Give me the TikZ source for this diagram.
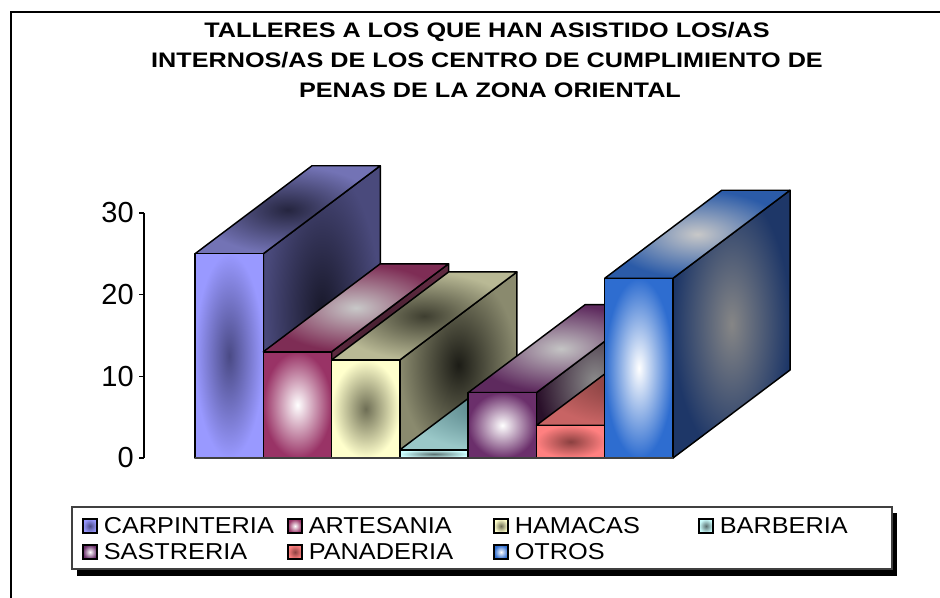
\documentclass[tikz,border=0pt]{standalone}
\usepackage{fontspec}
\setmainfont{Liberation Sans}
\newfontfamily\titlefont[FakeStretch=1.2]{Liberation Sans}
\newfontfamily\legendfont[FakeStretch=1.1]{Liberation Sans}
\usetikzlibrary{positioning}

\definecolor{carpFront}{HTML}{9999FF}
\definecolor{carpMid}{HTML}{4A4A85}
\definecolor{carpTop}{HTML}{7373B5}
\definecolor{carpTopMid}{HTML}{25253F}
\definecolor{carpSide}{HTML}{4A4A7C}
\definecolor{carpSideMid}{HTML}{18182A}
\definecolor{artFront}{HTML}{993366}
\definecolor{artTop}{HTML}{7E2D55}
\definecolor{artTopMid}{HTML}{C8C8C8}
\definecolor{artSide}{HTML}{5E2A40}
\definecolor{artSideMid}{HTML}{3A1A28}
\definecolor{hamFront}{HTML}{FFFFCC}
\definecolor{hamMid}{HTML}{6E6E55}
\definecolor{hamTop}{HTML}{B9B995}
\definecolor{hamTopMid}{HTML}{3E3E30}
\definecolor{hamSide}{HTML}{8A8A6E}
\definecolor{hamSideMid}{HTML}{1C1C16}
\definecolor{barbFront}{HTML}{CCFFFF}
\definecolor{barbMid}{HTML}{5A7070}
\definecolor{barbTop}{HTML}{9AC8C8}
\definecolor{barbTopMid}{HTML}{4E7A80}
\definecolor{sastFront}{HTML}{6B2F6B}
\definecolor{sastTop}{HTML}{5E2A5E}
\definecolor{sastTopMid}{HTML}{C4C4C4}
\definecolor{sastSide}{HTML}{2A102A}
\definecolor{sastSideMid}{HTML}{8C8C8C}
\definecolor{panFront}{HTML}{FF8080}
\definecolor{panMid}{HTML}{8A4040}
\definecolor{panTop}{HTML}{C86464}
\definecolor{panTopMid}{HTML}{7A3A3A}
\definecolor{panSide}{HTML}{A04848}
\definecolor{panSideMid}{HTML}{603030}
\definecolor{otrFront}{HTML}{2E6DD0}
\definecolor{otrTop}{HTML}{2B5BA8}
\definecolor{otrTopMid}{HTML}{C8C8C8}
\definecolor{otrSide}{HTML}{1E3768}
\definecolor{otrSideMid}{HTML}{868686}

\tikzset{
  face/.style={draw=black, line width=1.1pt, line join=round},
  title/.style={anchor=base, inner sep=0pt, font=\titlefont\bfseries\fontsize{15.75pt}{18pt}\selectfont},
  ticklabel/.style={anchor=east, inner sep=0pt, font=\fontsize{21.75pt}{24pt}\selectfont},
  marker/.style={shade, draw=black, line width=0.8pt, minimum size=10.5pt, inner sep=0pt},
  entry/.style={inner sep=0pt, font=\legendfont\fontsize{17.25pt}{20pt}\selectfont},
}

\begin{document}
\begin{tikzpicture}[x=0.75pt,y=-0.75pt]
        \useasboundingbox (0,0) rectangle (940,598);
        \draw[line width=1.5pt] (11,12) rectangle (960,620);

        \node[title] (t1) at (487,38) {TALLERES A LOS QUE HAN ASISTIDO LOS/AS};
        \node[title] (t2) at (487,68) {INTERNOS/AS DE LOS CENTRO DE CUMPLIMIENTO DE};
        \node[title] (t3) at (490,98) {PENAS DE LA ZONA ORIENTAL};

        % eje vertical
        \draw[line width=1.1pt] (144,213) -- (144,458);
        \foreach \v in {0,10,20,30} {
            \draw[line width=1.1pt] (139,{458-8.17*\v}) -- (144,{458-8.17*\v});
            \node[ticklabel] (y\v) at (134,{458-8.17*\v}) {\v};
        }

        % barras
        \foreach \n/\val/\fa/\fb/\ta/\tb/\sa/\sb in {
            0/25/carpFront/carpMid/carpTop/carpTopMid/carpSide/carpSideMid,
            1/13/artFront/white/artTop/artTopMid/artSide/artSideMid,
            2/12/hamFront/hamMid/hamTop/hamTopMid/hamSide/hamSideMid,
            3/1/barbFront/barbMid/barbTop/barbTopMid/barbTop/barbTopMid,
            4/8/sastFront/white/sastTop/sastTopMid/sastSide/sastSideMid,
            5/4/panFront/panMid/panTop/panTopMid/panSide/panSideMid,
            6/22/otrFront/white/otrTop/otrTopMid/otrSide/otrSideMid} {
            \pgfmathsetmacro\xl{195+68.29*\n}
            \pgfmathsetmacro\xr{\xl+68.29}
            \pgfmathsetmacro\yt{458-8.17*\val}
            \shadedraw[face, outer color=\sa, inner color=\sb] (\xr,458) -- (\xr,\yt) -- ++(117,-88) -- ++(0,{8.17*\val}) -- cycle;
            \shadedraw[face, outer color=\ta, inner color=\tb] (\xl,\yt) -- (\xr,\yt) -- ++(117,-88) -- ++(-68.29,0) -- cycle;
            \shadedraw[face, outer color=\fa, inner color=\fb] (\xl,458) rectangle (\xr,\yt);
        }
        \draw[darkgray, line width=1pt] (195,458) -- (673,458);

        % leyenda
        \fill[black] (77,513) rectangle (897,576);
        \draw[fill=white, draw=darkgray, line width=0.8pt] (72,507) rectangle (892,569);
        \foreach \n/\name/\ca/\cb/\cx/\cy in {
            1/CARPINTERIA/carpFront/carpMid/90/526,
            2/ARTESANIA/artFront/white/295/526,
            3/HAMACAS/hamFront/hamMid/501/526,
            4/BARBERIA/barbFront/barbMid/706/526,
            5/SASTRERIA/sastFront/white/90/552,
            6/PANADERIA/panFront/panMid/295/552,
            7/OTROS/otrFront/white/501/552} {
            \node[marker, outer color=\ca, inner color=\cb] (m\n) at (\cx,\cy) {};
            \node[entry, right=4.5pt of m\n] (e\n) {\name};
        }
    \end{tikzpicture}
\end{document}
